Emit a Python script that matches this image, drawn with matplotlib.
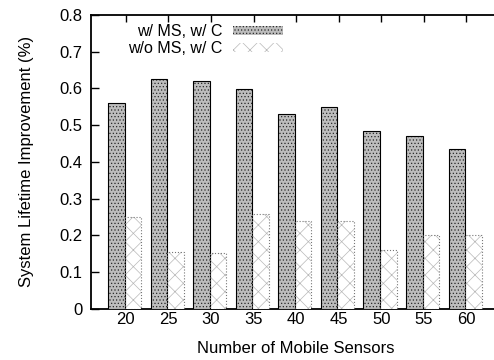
import numpy as np
import matplotlib
matplotlib.use("Agg")
import matplotlib.pyplot as plt
from matplotlib.patches import Patch

plt.rcParams['font.family'] = ['Liberation Sans', 'DejaVu Sans']
plt.rcParams['hatch.linewidth'] = 0.5

sensors = ['20', '25', '30', '35', '40', '45', '50', '55', '60']
with_ms = [0.561, 0.625, 0.620, 0.598, 0.530, 0.550, 0.485, 0.469, 0.435]
without_ms = [0.249, 0.156, 0.153, 0.258, 0.238, 0.238, 0.160, 0.201, 0.200]

x = np.arange(len(sensors))
w = 0.39
off = -0.03

fig = plt.figure(figsize=(4.94, 3.6), dpi=100)
ax = fig.add_axes([0.184, 0.142, 0.831, 0.817])

# w/ MS: stippled grey
ax.bar(x + off - w / 2, with_ms, w, color='#bdbdbd', edgecolor='#2a2a2a',
       hatch='.....', linewidth=0, zorder=3)
ax.bar(x + off - w / 2, with_ms, w, fill=False, edgecolor='black',
       linewidth=0.8, zorder=4)
# w/o MS: sparse light hatch, dotted outline
ax.bar(x + off + w / 2, without_ms, w, color='white', edgecolor='#b8b8b8',
       hatch='xx', linewidth=0, zorder=3)
ax.bar(x + off + w / 2, without_ms, w, fill=False, edgecolor='#777777',
       linewidth=0.8, linestyle=':', zorder=4)

ax.set_xlim(-0.82, 8.82)
ax.set_ylim(0, 0.8)
ax.set_xticks(x)
ax.set_xticklabels(sensors)
ax.set_yticks(np.arange(0, 0.81, 0.1))
ax.set_yticklabels(['0', '0.1', '0.2', '0.3', '0.4', '0.5', '0.6', '0.7', '0.8'])
ax.tick_params(axis='y', direction='in', length=6, width=1, pad=6, labelsize=12)
ax.tick_params(axis='x', direction='in', length=5, width=1, pad=2, labelsize=12,
               top=True, bottom=True)
for s in ax.spines.values():
    s.set_linewidth(1.3)

ax.set_xlabel('Number of Mobile Sensors', fontsize=12, labelpad=10)
ax.set_ylabel('System Lifetime Improvement (%)', fontsize=12, labelpad=18)

handles = [
    Patch(facecolor='#bdbdbd', edgecolor='#2a2a2a', hatch='.....', linewidth=0),
    Patch(facecolor='white', edgecolor='#b8b8b8', hatch='xx', linewidth=0),
]
fig.legend(handles, ['w/ MS, w/ C', 'w/o MS, w/ C'], loc='upper right',
           bbox_to_anchor=(283 / 494, 1 - 24 / 360), frameon=False,
           markerfirst=False, fontsize=11.5, handlelength=3.1,
           handleheight=0.45, handletextpad=0.7, labelspacing=0.15,
           borderpad=0, borderaxespad=0)

fig.savefig('out.png', dpi=100)
